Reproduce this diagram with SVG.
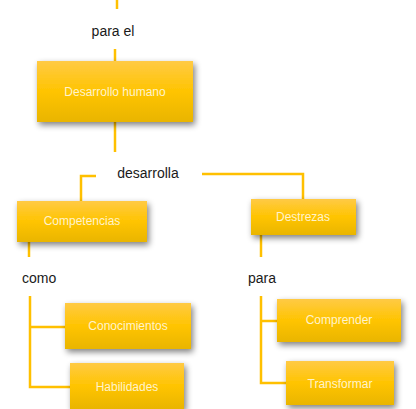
<svg xmlns="http://www.w3.org/2000/svg" width="416" height="409" viewBox="0 0 416 409">
<defs>
<linearGradient id="g" x1="0" y1="0" x2="0" y2="1">
<stop offset="0" stop-color="#FFCA45"/>
<stop offset="0.5" stop-color="#FFC400"/>
<stop offset="1" stop-color="#E9B500"/>
</linearGradient>
<filter id="sh" x="-20%" y="-30%" width="150%" height="180%">
<feGaussianBlur in="SourceAlpha" stdDeviation="3"/>
<feOffset dx="2" dy="3" result="b"/>
<feComponentTransfer><feFuncA type="linear" slope="0.5"/></feComponentTransfer>
<feMerge><feMergeNode/><feMergeNode in="SourceGraphic"/></feMerge>
</filter>
</defs>
<style>
.box{fill:url(#g);filter:url(#sh);}
.bt{font-family:"Liberation Sans",Arial,sans-serif;font-size:12px;fill:#FFF3CC;text-anchor:middle;}
.lbl{font-family:"Liberation Sans",Arial,sans-serif;font-size:14px;fill:#1a1a1a;}
.ln{fill:none;stroke:#FFC000;stroke-width:2.5;}
</style>
<rect width="416" height="409" fill="#ffffff"/>
<g id="connectors">
<path class="ln" d="M117,0 V9"/>
<path class="ln" d="M115,49 V61"/>
<path class="ln" d="M115,122 V152"/>
<path class="ln" d="M96,176 H81 V201"/>
<path class="ln" d="M202,174 H303 V199"/>
<path class="ln" d="M29,242 V257"/>
<path class="ln" d="M261,235 V257"/>
<path class="ln" d="M30,296 V387 H70 M30,327 H65"/>
<path class="ln" d="M261,296 V383 H286 M261,321 H277"/>
</g>
<g id="top-node"><rect class="box" x="72" y="-40" width="90" height="39"/></g>
<text class="lbl" x="113" y="36" text-anchor="middle">para el</text>
<g id="desarrollo-humano"><rect class="box" x="37" y="61" width="156" height="61"/><text class="bt" x="115" y="96">Desarrollo humano</text></g>
<text class="lbl" x="148" y="178" text-anchor="middle">desarrolla</text>
<g id="competencias"><rect class="box" x="17" y="201" width="130" height="41"/><text class="bt" x="82" y="225">Competencias</text></g>
<g id="destrezas"><rect class="box" x="251" y="199" width="105" height="36"/><text class="bt" x="303" y="221">Destrezas</text></g>
<text class="lbl" x="22" y="283">como</text>
<text class="lbl" x="248" y="283">para</text>
<g id="conocimientos"><rect class="box" x="65" y="303" width="126" height="46"/><text class="bt" x="128" y="330">Conocimientos</text></g>
<g id="habilidades"><rect class="box" x="70" y="363" width="114" height="46"/><text class="bt" x="127" y="391">Habilidades</text></g>
<g id="comprender"><rect class="box" x="277" y="299" width="124" height="43"/><text class="bt" x="339" y="324">Comprender</text></g>
<g id="transformar"><rect class="box" x="286" y="361" width="108" height="44"/><text class="bt" x="340" y="388">Transformar</text></g>
</svg>
